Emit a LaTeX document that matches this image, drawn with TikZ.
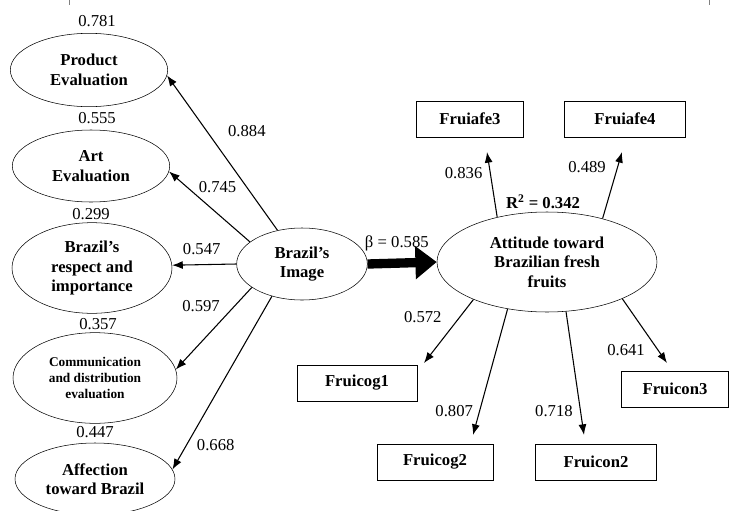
\documentclass[tikz,border=0pt]{standalone}
\usepackage{fontspec}
\setmainfont{Liberation Serif}
\usetikzlibrary{shapes, arrows.meta}

\begin{document}
\begin{tikzpicture}[x=0.75pt, y=-0.75pt,
  latent/.style={draw, ellipse, inner sep=0, align=center, font=\fontsize{12.5}{14.6}\selectfont\bfseries},
  obs/.style={draw, rectangle, minimum height=27pt, font=\fontsize{12.5}{14.6}\selectfont\bfseries},
  num/.style={font=\fontsize{12.5}{15}\selectfont},
  >={Latex[length=8pt, width=6pt]}]
\useasboundingbox (0,0) rectangle (729,511);
\draw[gray, thin] (69,0) -- (69,5);
\draw[gray, thin] (709,0) -- (709,5);
% Brazil's image side
\node[latent, minimum width=118pt, minimum height=55pt] (l1) at (89,70) {Product\\Evaluation};
\node[latent, minimum width=118pt, minimum height=54pt] (l2) at (91,166) {Art\\Evaluation};
\node[latent, minimum width=120pt, minimum height=68pt] (l3) at (92,268) {Brazil’s\\respect and\\importance};
\node[latent, minimum width=123pt, minimum height=68pt, font=\fontsize{10}{12}\selectfont\bfseries] (l4) at (95,378) {Communication\\and distribution\\evaluation};
\node[latent, minimum width=120pt, minimum height=54pt] (l5) at (95,479) {Affection\\toward Brazil};
\node[latent, minimum width=98pt, minimum height=54pt] (b) at (302,264) {Brazil’s\\Image};
\node[latent, minimum width=165pt, minimum height=75pt] (a) at (547,262) {Attitude toward\\Brazilian fresh\\fruits};
% Residuals
\node[num] (e1) at (97,21) {0.781};
\node[num] (e2) at (97,118) {0.555};
\node[num] (e3) at (91,214) {0.299};
\node[num] (e4) at (98,324) {0.357};
\node[num] (e5) at (95,432) {0.447};
\node[font=\fontsize{12.5}{15}\selectfont\bfseries] (r2) at (543,202) {R\textsuperscript{2} = 0.342};
% Indicators
\node[obs, minimum width=80pt] (o1) at (470,119) {Fruiafe3};
\node[obs, minimum width=91pt] (o2) at (625,119) {Fruiafe4};
\node[obs, minimum width=90pt] (o3) at (357,383) {Fruicog1};
\node[obs, minimum width=87pt] (o4) at (435,462) {Fruicog2};
\node[obs, minimum width=91pt] (o5) at (596,462) {Fruicon2};
\node[obs, minimum width=80pt] (o6) at (675,389) {Fruicon3};
\coordinate (t1) at (487,152);
\coordinate (t2) at (622,152);
\coordinate (t3) at (424,363);
\coordinate (t4) at (473,435);
\coordinate (t5) at (584,435);
\coordinate (t6) at (667,363);
% Arrows
\draw [->, line width=0.8pt] (b.126)--(l1.-4) node[num, pos=0.64, xshift=30pt] {0.884};
\draw [->, line width=0.8pt] (b.157)--(l2.-4) node[num, pos=0.78, xshift=23pt] {0.745};
\draw [->, line width=0.8pt] (b.180)--(l3.2) node[num, pos=0.54, yshift=12pt] {0.547};
\draw [->, line width=0.8pt] (b.205)--(l4.6) node[num, pos=0.23, xshift=-25pt] {0.597};
\draw [->, line width=0.8pt] (b.227)--(l5.7) node[num, pos=0.86, xshift=22pt] {0.668};
\draw [-{Triangle[length=16pt, width=24pt]}, line width=7pt] (b.east)--(a.west) node[num, midway, yshift=15pt, xshift=-4pt] {β = 0.585};
\draw [->, line width=0.8pt] (a.138)--(t1) node[num, pos=0.68, xshift=-20pt] {0.836};
\draw [->, line width=0.8pt] (a.38)--(t2) node[num, pos=0.78, xshift=-23pt] {0.489};
\draw [->, line width=0.8pt] (a.207)--(t3) node[num, pos=0.27, xshift=-28pt] {0.572};
\draw [->, line width=0.8pt] (a.230)--(t4) node[num, pos=0.81, xshift=-19pt] {0.807};
\draw [->, line width=0.8pt] (a.291)--(t5) node[num, pos=0.81, xshift=-20pt] {0.718};
\draw [->, line width=0.8pt] (a.334)--(t6) node[num, pos=0.8, xshift=-24pt] {0.641};
\end{tikzpicture}
\end{document}
